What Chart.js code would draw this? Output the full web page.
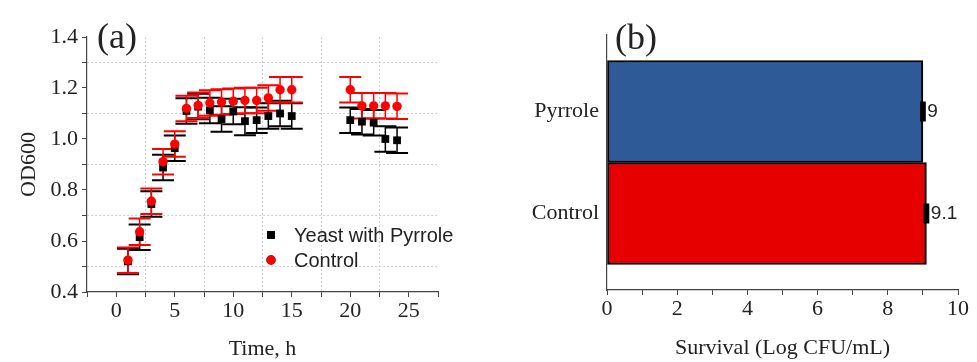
<!DOCTYPE html>
<html>
<head>
<meta charset="utf-8">
<script src="https://cdn.jsdelivr.net/npm/chart.js@4"></script>
<style>
  body { margin: 0; background: #fff; width: 977px; height: 362px; overflow: hidden; position: relative; }
  #growthChart { position: absolute; left: 0; top: 0; }
  #survivalChart { position: absolute; left: 490px; top: 0; }
</style>
</head>
<body>
<canvas id="growthChart" width="490" height="362"></canvas>
<canvas id="survivalChart" width="487" height="362"></canvas>
<script>
// panel (a): growth curve
const hours = [1, 2, 3, 4, 5, 6, 7, 8, 9, 10, 11, 12, 13, 14, 15, 20, 21, 22, 23, 24];
const pyrroleOD = [0.52, 0.615, 0.745, 0.888, 0.964, 1.11, 1.127, 1.112, 1.078, 1.108, 1.07, 1.074, 1.09, 1.1, 1.09, 1.074, 1.068, 1.064, 1.0, 0.995];
const pyrroleErr = [0.05, 0.05, 0.05, 0.05, 0.05, 0.05, 0.05, 0.05, 0.05, 0.05, 0.055, 0.05, 0.05, 0.05, 0.05, 0.05, 0.05, 0.05, 0.05, 0.05];
const controlOD = [0.525, 0.636, 0.756, 0.911, 0.98, 1.12, 1.132, 1.141, 1.145, 1.148, 1.151, 1.151, 1.161, 1.193, 1.193, 1.193, 1.13, 1.13, 1.13, 1.128];
const controlErr = [0.05, 0.052, 0.05, 0.05, 0.05, 0.05, 0.05, 0.05, 0.05, 0.05, 0.05, 0.05, 0.05, 0.05, 0.05, 0.05, 0.05, 0.05, 0.05, 0.05];

// panel (b): survival
const groups = ['Control', 'Pyrrole'];
const survival = [9.1, 9.0];
const survivalErr = [0.04, 0.04];
const survivalText = ['9.1', '9'];

const serif = 'Liberation Serif';
const sans = 'Liberation Sans';
const axisColor = '#444';
const gridColor = '#cfcfcf';
const textSize = 22;

function points(xs, ys, errs) {
  return xs.map((x, i) => ({ x: x, y: ys[i], err: errs[i] }));
}

const growthBars = {
  id: 'growthBars',
  beforeDatasetsDraw(chart) {
    const { ctx, scales: { x, y } } = chart;
    ctx.save();
    chart.data.datasets.forEach(ds => {
      ctx.strokeStyle = ds.backgroundColor;
      ds.data.forEach(p => {
        const px = x.getPixelForValue(p.x);
        const top = y.getPixelForValue(p.y + p.err);
        const bot = y.getPixelForValue(p.y - p.err);
        ctx.lineWidth = 1.5;
        ctx.beginPath();
        ctx.moveTo(px, top);
        ctx.lineTo(px, bot);
        ctx.stroke();
        ctx.lineWidth = 2;
        ctx.beginPath();
        ctx.moveTo(px - 11, top); ctx.lineTo(px + 11, top);
        ctx.moveTo(px - 11, bot); ctx.lineTo(px + 11, bot);
        ctx.stroke();
      });
    });
    ctx.restore();
  },
  afterDraw(chart) {
    const { ctx, chartArea } = chart;
    ctx.save();
    ctx.fillStyle = '#222';
    ctx.font = '36px "' + serif + '"';
    ctx.textBaseline = 'middle';
    ctx.fillText('(a)', chartArea.left + 10, chartArea.top + 2);
    // legend inside the plot
    ctx.font = '20px "' + sans + '"';
    const lx = chartArea.left + 184, ly = chartArea.top + 198;
    chart.data.datasets.forEach((ds, i) => {
      const yy = ly + i * 25;
      Chart.helpers.drawPoint(ctx, { pointStyle: ds.pointStyle, radius: ds.pointRadius, borderWidth: 0 }, lx, yy);
      ctx.fillStyle = ds.backgroundColor;
      ctx.fill();
      ctx.fillStyle = '#222';
      ctx.fillText(ds.label, lx + 23, yy + 1);
    });
    ctx.restore();
  }
};

new Chart(document.getElementById('growthChart'), {
  type: 'scatter',
  data: {
    datasets: [
      {
        label: 'Yeast with Pyrrole',
        data: points(hours, pyrroleOD, pyrroleErr),
        backgroundColor: '#000',
        borderWidth: 0,
        pointStyle: 'rect',
        pointRadius: 5.5,
        order: 2
      },
      {
        label: 'Control',
        data: points(hours, controlOD, controlErr),
        backgroundColor: '#ff0000',
        borderWidth: 0,
        pointStyle: 'circle',
        pointRadius: 4.7,
        order: 1
      }
    ]
  },
  options: {
    responsive: false,
    animation: false,
    events: [],
    layout: { padding: { top: 37, right: 52, left: 0, bottom: 0 } },
    plugins: { legend: { display: false }, tooltip: { enabled: false } },
    scales: {
      x: {
        type: 'linear',
        min: -2.5,
        max: 27.5,
        afterFit: s => { s.height = 70; },
        ticks: {
          stepSize: 2.5,
          autoSkip: false,
          maxRotation: 0,
          padding: 1,
          color: '#222',
          font: { family: serif, size: textSize },
          callback: v => (v % 5 === 0 ? v : '')
        },
        grid: {
          tickLength: 5,
          tickColor: axisColor,
          color: c => (c.tick && c.tick.value % 5 !== 0 && c.tick.value > -2 && c.tick.value < 27 ? gridColor : 'rgba(0,0,0,0)')
        },
        border: { color: axisColor, width: 1.2, dash: [2, 2] },
        title: { display: true, text: 'Time, h', color: '#222', font: { family: serif, size: textSize }, padding: { top: 0, bottom: 0 } }
      },
      y: {
        min: 0.4,
        max: 1.4,
        afterFit: s => { s.width = 87; },
        ticks: {
          stepSize: 0.1,
          autoSkip: false,
          padding: 4,
          color: '#222',
          font: { family: serif, size: textSize },
          callback: v => (Math.round(v * 10) % 2 === 0 ? v.toFixed(1) : '')
        },
        grid: {
          tickLength: 5,
          tickColor: axisColor,
          color: c => (c.tick && Math.round(c.tick.value * 10) % 2 === 1 ? gridColor : 'rgba(0,0,0,0)')
        },
        border: { color: axisColor, width: 1.2, dash: [2, 2] },
        title: { display: true, text: 'OD600', color: '#222', font: { family: serif, size: textSize }, padding: { top: 16, bottom: 0 } }
      }
    }
  },
  plugins: [growthBars]
});

const survivalBars = {
  id: 'survivalBars',
  afterDatasetsDraw(chart) {
    const { ctx, chartArea, scales: { x } } = chart;
    const meta = chart.getDatasetMeta(0);
    ctx.save();
    ctx.strokeStyle = '#000';
    ctx.lineWidth = 3;
    meta.data.forEach((bar, i) => {
      const x0 = x.getPixelForValue(survival[i] - survivalErr[i]);
      const x1 = x.getPixelForValue(survival[i] + survivalErr[i]);
      ctx.beginPath();
      ctx.moveTo(x0, bar.y); ctx.lineTo(x1, bar.y);
      ctx.moveTo(x0, bar.y - 10); ctx.lineTo(x0, bar.y + 10);
      ctx.moveTo(x1, bar.y - 10); ctx.lineTo(x1, bar.y + 10);
      ctx.stroke();
      ctx.fillStyle = '#222';
      ctx.font = '19px "' + sans + '"';
      ctx.textBaseline = 'middle';
      ctx.fillText(survivalText[i], x1 + 3, bar.y);
    });
    ctx.fillStyle = '#222';
    ctx.font = '36px "' + serif + '"';
    ctx.fillText('(b)', chartArea.left + 8, chartArea.top + 5);
    ctx.restore();
  }
};

new Chart(document.getElementById('survivalChart'), {
  type: 'bar',
  data: {
    datasets: [{
      data: groups.map((g, i) => ({ x: survival[i], y: i })),
      backgroundColor: ['#e60000', '#2f5a98'],
      borderColor: '#000',
      borderWidth: 2,
      borderSkipped: false,
      barPercentage: 1,
      categoryPercentage: 1
    }]
  },
  options: {
    indexAxis: 'y',
    responsive: false,
    animation: false,
    events: [],
    layout: { padding: { top: 35, right: 19, left: 0, bottom: 0 } },
    plugins: { legend: { display: false }, tooltip: { enabled: false } },
    scales: {
      x: {
        type: 'linear',
        min: 0,
        max: 10,
        afterFit: s => { s.height = 72; },
        ticks: {
          stepSize: 1,
          autoSkip: false,
          maxRotation: 0,
          padding: 1,
          color: '#222',
          font: { family: serif, size: textSize },
          callback: v => (v % 2 === 0 ? v : '')
        },
        grid: { drawOnChartArea: false, tickLength: 5, tickColor: axisColor },
        border: { color: axisColor, width: 1.2 },
        title: { display: true, text: 'Survival (Log CFU/mL)', color: '#222', font: { family: serif, size: textSize }, padding: { top: 0, bottom: 1 } }
      },
      y: {
        type: 'linear',
        offset: false,
        grace: 0,
        min: -0.75,
        max: 1.75,
        afterBuildTicks: s => { s.ticks = groups.map((g, i) => ({ value: i })); },
        afterFit: s => { s.width = 117; },
        ticks: {
          autoSkip: false,
          padding: 8,
          color: '#222',
          font: { family: serif, size: textSize },
          callback: v => groups[v] || ''
        },
        grid: { display: true, drawOnChartArea: false, drawTicks: false },
        border: { color: axisColor, width: 1.2 }
      }
    }
  },
  plugins: [survivalBars]
});
</script>
</body>
</html>
